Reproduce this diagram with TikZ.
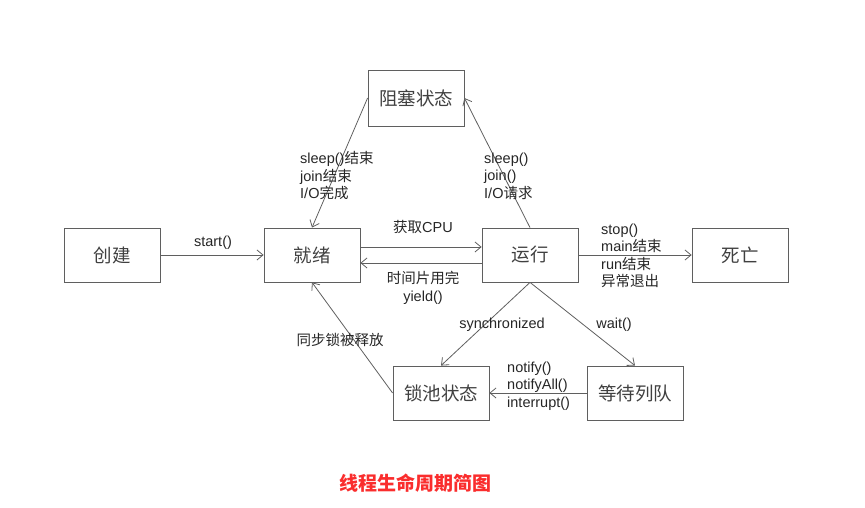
\documentclass[tikz,border=0pt]{standalone}
\usepackage{fontspec}
\setmainfont{Liberation Sans}
\newfontfamily\cjk{Noto Sans CJK SC}
\usetikzlibrary{arrows.meta}
\definecolor{linegray}{RGB}{95,95,95}
\definecolor{titlered}{RGB}{250,45,45}
\newcommand{\zh}[1]{{\cjk #1}}

\begin{document}
\begin{tikzpicture}[x=1pt,y=1pt,
    state/.style={draw=linegray,line width=0.8pt,minimum width=96pt,minimum height=54pt,
      font=\cjk\fontsize{18.5}{20}\selectfont,text=black!75},
    lbl/.style={font=\fontsize{14.5}{17.5}\selectfont,text=black!85,align=left,inner sep=0pt},
    trans/.style={draw=linegray,line width=0.8pt,-{Straight Barb[length=6pt,width=10pt]}}]
  \useasboundingbox (0,0) rectangle (865,508);
  % states
  \node[state] (new)   at (112,253) {创建};
  \node[state] (ready) at (312,253) {就绪};
  \node[state] (run)   at (530,253) {运行};
  \node[state] (dead)  at (740,253) {死亡};
  \node[state,minimum height=56pt] (block) at (416,410) {阻塞状态};
  \node[state] (pool)  at (441,115) {锁池状态};
  \node[state] (wait)  at (635,115) {等待列队};
  % transitions
  \draw[trans] (new) -- (ready);
  \draw[trans] ([yshift=8pt]ready.east) -- ([yshift=8pt]run.west);
  \draw[trans] ([yshift=-8pt]run.west) -- ([yshift=-8pt]ready.east);
  \draw[trans] (run) -- (dead);
  \draw[trans] (block.west) -- (ready.north);
  \draw[trans] (run.north) -- (block.east);
  \draw[trans] (pool.west) -- (ready.south);
  \draw[trans] (run.south) -- (pool.north);
  \draw[trans] (run.south) -- (wait.north);
  \draw[trans] (wait.west) -- (pool.east);
  % labels
  \node[lbl] (lstart) at (213,265) {start()};
  \node[lbl] (lcpu)   at (423,281) {\zh{获取}CPU};
  \node[lbl,align=center] (lyield) at (423,220) {\zh{时间片用完}\\yield()};
  \node[lbl,anchor=west] (lstop) at (601,252) {stop()\\main\zh{结束}\\run\zh{结束}\\\zh{异常退出}};
  \node[lbl,anchor=west] (lwake) at (300,332) {sleep()\zh{结束}\\join\zh{结束}\\I/O\zh{完成}};
  \node[lbl,anchor=west] (lsleep) at (484,332) {sleep()\\join()\\I/O\zh{请求}};
  \node[lbl] (lfree) at (340,168) {\zh{同步锁被释放}};
  \node[lbl] (lsync) at (502,183) {synchronized};
  \node[lbl] (lwait) at (614,183) {wait()};
  \node[lbl,anchor=west] (lnotify) at (507,122) {notify()\\notifyAll()\\interrupt()};
  % title
  \node[font=\cjk\bfseries\fontsize{19}{22}\selectfont,text=titlered] (title) at (415,25) {线程生命周期简图};
\end{tikzpicture}
\end{document}
